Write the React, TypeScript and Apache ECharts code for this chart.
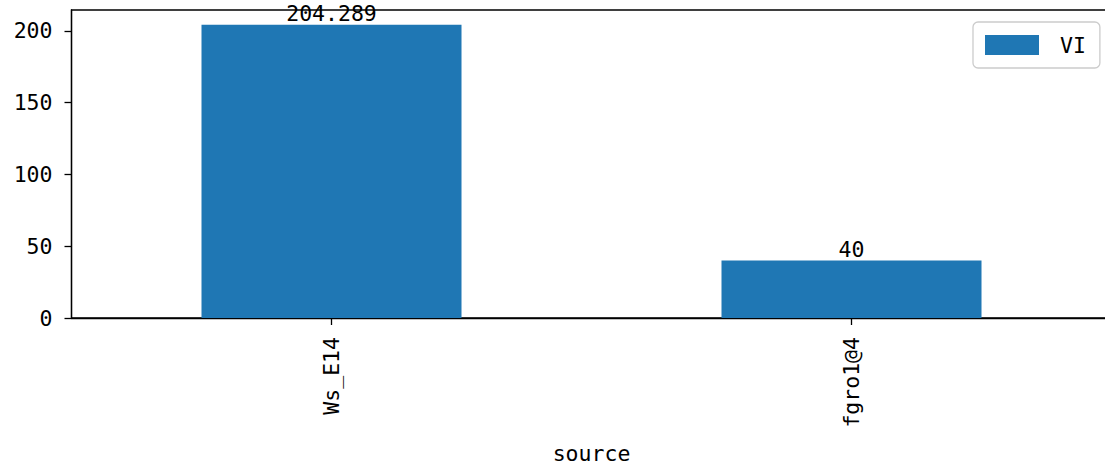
import React, { useEffect, useRef } from "react";
import * as echarts from "echarts";

const categories: string[] = ["Ws_E14", "fgro1@4"];
const values: number[] = [204.289, 40];
const valueLabels: string[] = ["204.289", "40"];
const yTicks: number[] = [0, 50, 100, 150, 200];
const seriesName = "VI";
const xAxisName = "source";

const FONT = "'DejaVu Sans Mono', monospace";
const FS = 21.5;

export default function App() {
  const ref = useRef<HTMLDivElement>(null);
  useEffect(() => {
    if (!ref.current) return;
    const chart = echarts.init(ref.current, undefined, { renderer: "svg" });
    chart.setOption({
      animation: false,
      backgroundColor: "#ffffff",
      textStyle: { fontFamily: FONT },
      grid: {
        left: 71.5,
        top: 10,
        width: 1040,
        height: 308,
        show: true,
        borderColor: "#000",
        borderWidth: 1.3,
        backgroundColor: "transparent",
        outerBoundsMode: "none",
        containLabel: false,
      },
      legend: {
        show: true,
        data: [seriesName],
        left: 973,
        top: 22,
        orient: "vertical",
        itemWidth: 54,
        itemHeight: 20,
        icon: "rect",
        padding: [12, 14, 12, 12],
        borderColor: "#cccccc",
        borderWidth: 1.3,
        borderRadius: 5,
        textStyle: {
          fontFamily: FONT,
          fontSize: FS,
          color: "#000",
          padding: [0, 0, 0, 16],
        },
      },
      xAxis: {
        type: "category",
        data: categories,
        boundaryGap: true,
        name: xAxisName,
        nameLocation: "middle",
        nameGap: 124,
        nameTextStyle: { fontFamily: FONT, fontSize: FS, color: "#000" },
        axisLine: { show: true, lineStyle: { color: "#000", width: 1.3 } },
        axisTick: {
          show: true,
          alignWithLabel: true,
          length: 7,
          lineStyle: { color: "#000", width: 1.3 },
        },
        axisLabel: {
          rotate: 90,
          margin: 19,
          fontFamily: FONT,
          fontSize: FS,
          color: "#000",
        },
        splitLine: { show: false },
      },
      yAxis: {
        type: "value",
        min: 0,
        max: 214.503,
        interval: 50,
        axisLine: { show: true, lineStyle: { color: "#000", width: 1.3 } },
        axisTick: {
          show: true,
          length: 7,
          customValues: yTicks,
          lineStyle: { color: "#000", width: 1.3 },
        },
        axisLabel: {
          customValues: yTicks,
          margin: 19,
          fontFamily: FONT,
          fontSize: FS,
          color: "#000",
        },
        splitLine: { show: false },
      },
      series: [
        {
          name: seriesName,
          type: "bar",
          data: values,
          barWidth: "50%",
          itemStyle: { color: "#1f77b4" },
          label: {
            show: true,
            position: "top",
            distance: 2,
            lineHeight: 19,
            fontFamily: FONT,
            fontSize: FS,
            color: "#000",
            formatter: (p: any) => valueLabels[p.dataIndex],
          },
        },
      ],
    });
    return () => chart.dispose();
  }, []);
  return (
    <div
      ref={ref}
      style={{ position: "fixed", left: 0, top: 0, width: 1105, height: 464 }}
    />
  );
}
